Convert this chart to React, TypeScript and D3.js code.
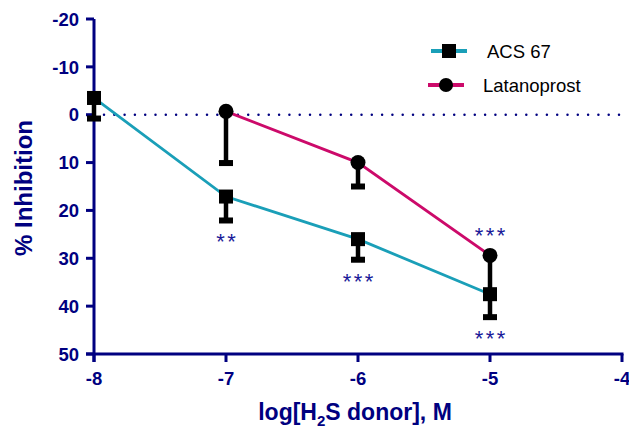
import React from 'react'
import * as d3 from 'd3'

// log[H2S donor], M
const acsDose = [-8, -7, -6, -5]
const acsMean = [-3.5, 17.1, 26.0, 37.5]
const acsSem = [4.3, 5.0, 4.3, 4.8]
const acsStars = ['', '**', '***', '***']

const latDose = [-7, -6, -5]
const latMean = [-0.7, 10.0, 29.4]
const latSem = [10.8, 5.0, 8.0]
const latStars = ['', '', '***']

const xTicks = [-8, -7, -6, -5, -4]
const yTicks = [-20, -10, 0, 10, 20, 30, 40, 50]

const NAVY = '#000080'
const STAR = '#1a1a99'
const TEAL = '#1a9fb8'
const MAGENTA = '#cc0a6a'
const FONT = 'Liberation Sans, Arial, sans-serif'

const App = () => {
  const W = 629, H = 429
  const x = d3.scaleLinear().domain([-8, -4]).range([94, 622])
  const y = d3.scaleLinear().domain([-20, 50]).range([19, 354])
  const line = d3.line<number>()

  const acsPts = acsDose.map((d, i) => [x(d), y(acsMean[i])] as [number, number])
  const latPts = latDose.map((d, i) => [x(d), y(latMean[i])] as [number, number])

  const errBar = (d: number, m: number, s: number, key: string) => (
    <g key={key}>
      <line x1={x(d)} x2={x(d)} y1={y(m)} y2={y(m + s)} stroke="#000" strokeWidth={4.5} />
      <rect x={x(d) - 7} y={y(m + s) - 3} width={14} height={6} fill="#000" />
    </g>
  )

  // asterisks: baseline sits ~11.5px below the glyph centre at 22px
  const stars = (cx: number, cy: number, s: string, key: string) => (
    <text key={key} x={cx + 1.2} y={cy + 11.5} textAnchor="middle" fontSize={22}
      fill={STAR} letterSpacing={2.4}>{s}</text>
  )

  return (
    <svg width={W} height={H} style={{ position: 'absolute', left: 0, top: 0 }} fontFamily={FONT}>
      {/* zero reference line */}
      <line x1={x(-8) + 10} x2={x(-4)} y1={y(0)} y2={y(0)} stroke={NAVY} strokeWidth={2.5}
        strokeDasharray="0 10.3" strokeLinecap="round" />

      {/* axes */}
      <line x1={x(-8)} x2={x(-8)} y1={y(-20)} y2={y(50) + 8} stroke={NAVY} strokeWidth={3} />
      <line x1={x(-8) - 8} x2={x(-4) + 1.5} y1={y(50)} y2={y(50)} stroke={NAVY} strokeWidth={3} />
      {yTicks.map(t => (
        <g key={'y' + t}>
          <line x1={x(-8) - 8} x2={x(-8)} y1={y(t)} y2={y(t)} stroke={NAVY} strokeWidth={3} />
          <text x={x(-8) - 15} y={y(t)} dy="0.36em" textAnchor="end" fontSize={18.5}
            fontWeight="bold" fill={NAVY}>{t}</text>
        </g>
      ))}
      {xTicks.map(t => (
        <g key={'x' + t}>
          <line x1={x(t)} x2={x(t)} y1={y(50)} y2={y(50) + 8} stroke={NAVY} strokeWidth={3} />
          <text x={x(t)} y={y(50) + 31} textAnchor="middle" fontSize={18.5}
            fontWeight="bold" fill={NAVY}>{t}</text>
        </g>
      ))}

      <text transform="translate(32,188) rotate(-90)" textAnchor="middle" fontSize={24}
        fontWeight="bold" fill={NAVY}>% Inhibition</text>
      <text x={355} y={420} textAnchor="middle" fontSize={23} fontWeight="bold" fill={NAVY}>
        log[H<tspan fontSize={15} dy={6}>2</tspan><tspan dy={-6}>S donor], M</tspan>
      </text>

      {/* series lines */}
      <path d={line(acsPts) || ''} fill="none" stroke={TEAL} strokeWidth={2.8} />
      <path d={line(latPts) || ''} fill="none" stroke={MAGENTA} strokeWidth={2.8} />

      {/* error bars */}
      {latDose.map((d, i) => errBar(d, latMean[i], latSem[i], 'le' + i))}
      {acsDose.map((d, i) => errBar(d, acsMean[i], acsSem[i], 'ae' + i))}

      {/* markers */}
      {latPts.map((p, i) => <circle key={'lc' + i} cx={p[0]} cy={p[1]} r={7.5} fill="#000" />)}
      {acsPts.map((p, i) => <rect key={'ar' + i} x={p[0] - 7} y={p[1] - 7} width={14} height={14} fill="#000" />)}

      {/* significance */}
      {acsDose.map((d, i) => acsStars[i] &&
        stars(x(d), y(acsMean[i] + acsSem[i]) + 17.3, acsStars[i], 'as' + i))}
      {latDose.map((d, i) => latStars[i] &&
        stars(x(d), y(latMean[i]) - 24.3, latStars[i], 'ls' + i))}

      {/* legend */}
      <line x1={431} x2={467} y1={51} y2={51} stroke={TEAL} strokeWidth={4} />
      <rect x={442} y={44} width={14} height={14} fill="#000" />
      <text x={487} y={51} dy="0.36em" fontSize={18.5} fill="#000">ACS 67</text>
      <line x1={428} x2={464} y1={85} y2={85} stroke={MAGENTA} strokeWidth={4} />
      <circle cx={446} cy={85} r={7} fill="#000" />
      <text x={483} y={85} dy="0.36em" fontSize={18.5} fill="#000">Latanoprost</text>
    </svg>
  )
}

export default App
